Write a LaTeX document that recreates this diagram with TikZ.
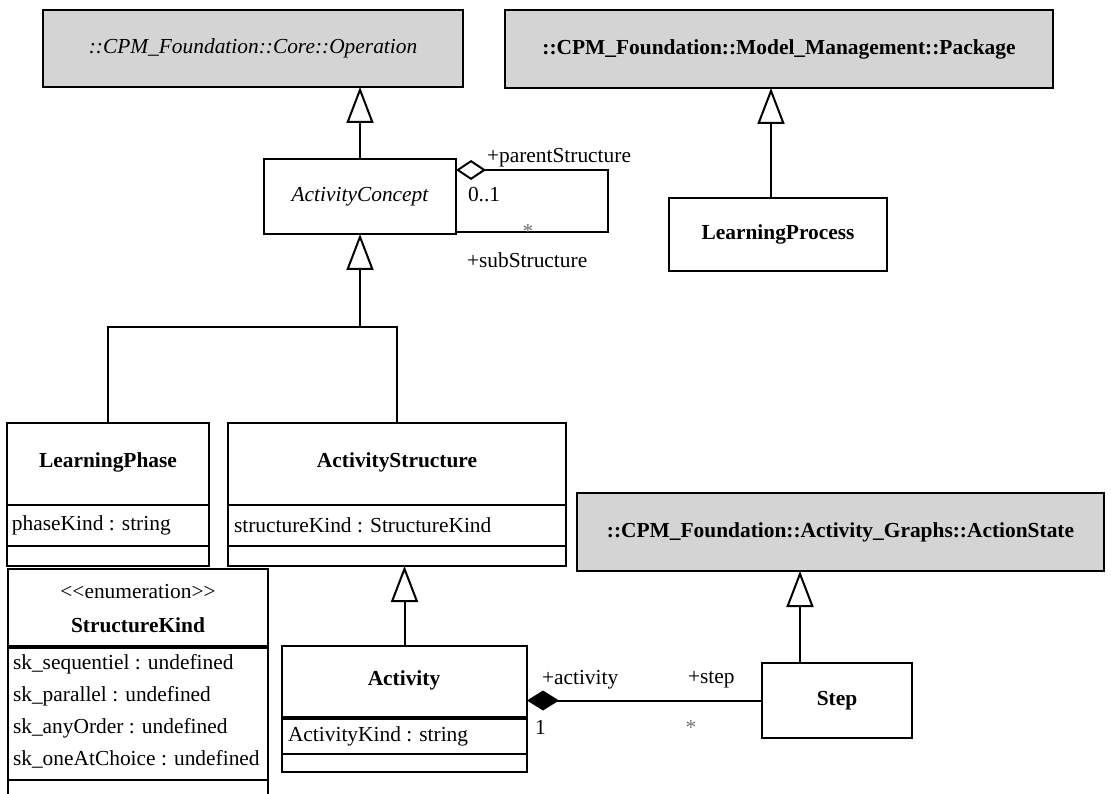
\documentclass[tikz,border=0pt]{standalone}
\usepackage{fontspec}
\setmainfont{Liberation Serif}
\usetikzlibrary{arrows.meta,calc}
\definecolor{boxgray}{RGB}{212,212,212}
\begin{document}
\begin{tikzpicture}[x=1pt,y=-1pt,
  every node/.style={font=\fontsize{21.4}{25}\selectfont, inner sep=0pt, outer sep=0pt},
  cls/.style={draw=black, line width=2pt, rectangle, anchor=north west},
  ext/.style={cls, fill=boxgray},
  conn/.style={draw=black, line width=2pt},
  thickdiv/.style={draw=black, line width=4pt},
  gen/.style={conn, -{Triangle[open, length=36pt, width=27pt]}},
  aggr/.style={conn, {Diamond[open, length=30pt, width=20pt]}-},
  comp/.style={conn, {Diamond[length=32pt, width=20pt]}-},
  lbl/.style={anchor=west},
  boldlbl/.style={font=\fontsize{21.4}{25}\selectfont\bfseries},
  star/.style={text=black!55}
]
\clip (0,0) rectangle (1111,794);
\fill[white] (0,0) rectangle (1111,794);

% external (gray) classes
\node[ext, minimum width=420pt, minimum height=77pt] (op) at (43,10) {\itshape ::CPM\_Foundation::Core::Operation};
\node[ext, minimum width=548pt, minimum height=78pt] (pkg) at (505,10) {\bfseries ::CPM\_Foundation::Model\_Management::Package};
\node[ext, minimum width=527pt, minimum height=78pt] (aState) at (577,493) {\bfseries ::CPM\_Foundation::Activity\_Graphs::ActionState};

% simple classes
\node[cls, minimum width=192pt, minimum height=75pt] (ac) at (264,159) {\itshape ActivityConcept};
\node[cls, minimum width=218pt, minimum height=73pt] (lproc) at (669,198) {\bfseries LearningProcess};
\node[cls, minimum width=150pt, minimum height=75pt] (step) at (762,663) {\bfseries Step};

% LearningPhase
\node[cls, minimum width=202pt, minimum height=143pt] (lphase) at (7,423) {};
\node[boldlbl] (lphaseT) at (108,462) {LearningPhase};
\draw[conn] (lphase.west |- 0,505) -- (lphase.east |- 0,505);
\draw[conn] (lphase.west |- 0,546) -- (lphase.east |- 0,546);
\node[lbl] (lphaseA) at (12,525) {phaseKind : string};

% ActivityStructure
\node[cls, minimum width=338pt, minimum height=143pt] (astr) at (228,423) {};
\node[boldlbl] (astrT) at (397,462) {ActivityStructure};
\draw[conn] (astr.west |- 0,505) -- (astr.east |- 0,505);
\draw[conn] (astr.west |- 0,546) -- (astr.east |- 0,546);
\node[lbl] (astrA) at (234,525) {structureKind : StructureKind};

% StructureKind enumeration
\node[cls, minimum width=260pt, minimum height=236pt] (sk) at (8,569) {};
\node (skS) at (138,592) {<\kern0pt<enumeration>\kern0pt>};
\node[boldlbl] (skT) at (138,625) {StructureKind};
\draw[thickdiv] (sk.west |- 0,647) -- (sk.east |- 0,647);
\node[lbl] (skA1) at (13,664) {sk\_sequentiel : undefined};
\node[lbl] (skA2) at (13,696) {sk\_parallel : undefined};
\node[lbl] (skA3) at (13,728) {sk\_anyOrder : undefined};
\node[lbl] (skA4) at (13,759) {sk\_oneAtChoice : undefined};
\draw[conn] (sk.west |- 0,780) -- (sk.east |- 0,780);

% Activity
\node[cls, minimum width=245pt, minimum height=126pt] (act) at (282,646) {};
\node[boldlbl] (actT) at (404,680) {Activity};
\draw[thickdiv] (act.west |- 0,718) -- (act.east |- 0,718);
\node[lbl] (actA) at (288,736) {ActivityKind : string};
\draw[conn] (act.west |- 0,754) -- (act.east |- 0,754);

% helper coordinates
\coordinate (j) at (ac.south |- 0,327);
\coordinate (lpx) at (771,150);
\coordinate (stx) at (800,620);
\coordinate (loopA) at (608,170);
\coordinate (loopB) at (608,232);

% generalizations
\draw[gen] (ac.north) -- (ac.north |- op.south);
\draw[gen] (lproc.north -| lpx) -- (pkg.south -| lpx);
\draw[conn] (lphase.north) |- (j);
\draw[gen] (astr.north) |- (j) -- (ac.south);
\draw[gen] (act.north) -- (act.north |- astr.south);
\draw[gen] (step.north -| stx) -- (aState.south -| stx);

% associations
\draw[aggr] (ac.east |- loopA) -- (loopA) -- (loopB) -- (ac.east |- loopB);
\draw[comp] (act.east |- step.west) -- (step.west);

% association labels
\node[lbl] (lpar) at (487,158) {+parentStructure};
\node[lbl] (lm01) at (468,195) {0..1};
\node[star] (lstar1) at (528,231) {*};
\node[lbl] (lsub) at (467,260) {+subStructure};
\node[lbl] (lact) at (542,680) {+activity};
\node[lbl] (lstep) at (688,680) {+step};
\node[lbl] (lone) at (535,727) {1};
\node[star] (lstar2) at (691,727) {*};
\end{tikzpicture}
\end{document}
